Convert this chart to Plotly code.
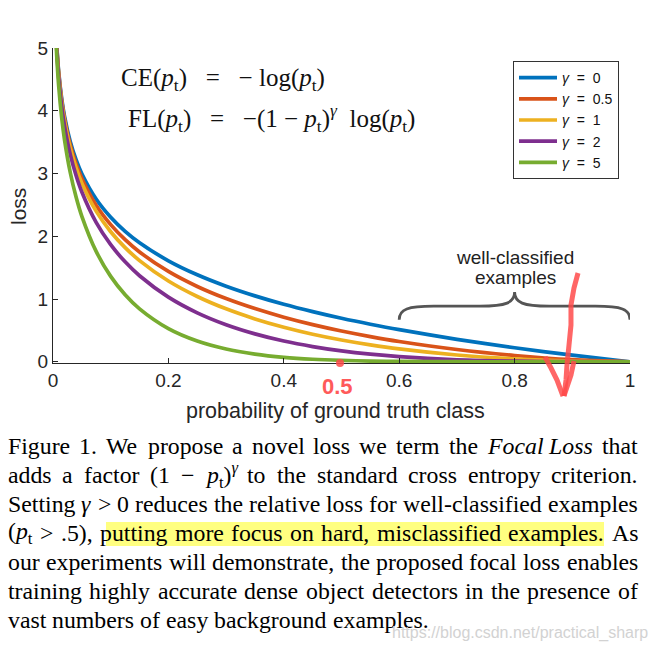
import re
import plotly.graph_objects as go

# ---------------- data ----------------
p_t = [0.005, 0.0067, 0.01, 0.015, 0.02, 0.03, 0.04, 0.05, 0.075, 0.1, 0.125, 0.15,
       0.2, 0.25, 0.3, 0.35, 0.4, 0.45, 0.5, 0.55, 0.6, 0.7, 0.8, 0.9, 1.0]
loss_g0 = [5.298, 5.006, 4.605, 4.200, 3.912, 3.507, 3.219, 2.996, 2.590, 2.303, 2.079, 1.897,
           1.609, 1.386, 1.204, 1.050, 0.916, 0.799, 0.693, 0.598, 0.511, 0.357, 0.223, 0.105, 0.0]
loss_g05 = [5.285, 4.989, 4.582, 4.168, 3.873, 3.454, 3.154, 2.920, 2.491, 2.185, 1.945, 1.749,
            1.439, 1.200, 1.007, 0.847, 0.710, 0.592, 0.490, 0.401, 0.323, 0.195, 0.100, 0.033, 0.0]
loss_g1 = [5.272, 4.972, 4.559, 4.137, 3.834, 3.402, 3.090, 2.846, 2.396, 2.072, 1.819, 1.612,
           1.287, 1.040, 0.843, 0.683, 0.550, 0.439, 0.347, 0.269, 0.204, 0.107, 0.045, 0.011, 0.0]
loss_g2 = [5.245, 4.939, 4.513, 4.075, 3.757, 3.300, 2.967, 2.704, 2.216, 1.865, 1.592, 1.371,
           1.030, 0.780, 0.590, 0.444, 0.330, 0.242, 0.173, 0.121, 0.082, 0.032, 0.009, 0.001, 0.0]
loss_g5 = [5.167, 4.840, 4.379, 3.894, 3.536, 3.012, 2.625, 2.318, 1.754, 1.360, 1.067, 0.842,
           0.527, 0.329, 0.202, 0.122, 0.071, 0.040, 0.022, 0.011, 0.005, 0.001, 0.000, 0.0, 0.0]

series_names = ["<i>γ</i>&nbsp;&nbsp;=&nbsp;&nbsp;0", "<i>γ</i>&nbsp;&nbsp;=&nbsp;&nbsp;0.5",
                "<i>γ</i>&nbsp;&nbsp;=&nbsp;&nbsp;1", "<i>γ</i>&nbsp;&nbsp;=&nbsp;&nbsp;2",
                "<i>γ</i>&nbsp;&nbsp;=&nbsp;&nbsp;5"]
series_values = [loss_g0, loss_g05, loss_g1, loss_g2, loss_g5]
series_colors = ["#0072BD", "#D95319", "#EDB120", "#7E2F8E", "#77AC30"]

x_ticks = [0, 0.2, 0.4, 0.6, 0.8, 1]
x_tick_labels = ["0", "0.2", "0.4", "0.6", "0.8", "1"]
y_ticks = [0, 1, 2, 3, 4, 5]
y_tick_labels = ["0", "1", "2", "3", "4", "5"]

# caption, word by word (justified like the original)
caption_words = [
    ["Figure", "1.", "We", "propose", "a", "novel", "loss", "we", "term", "the",
     "<i>Focal</i>", "<i>Loss</i>", "that"],
    ["adds", "a", "factor", "(1", "−", "<i>p</i><sub>t</sub>)<sup><i>γ</i></sup>", "to", "the",
     "standard", "cross", "entropy", "criterion."],
    ["Setting", "<i>γ</i>", ">", "0", "reduces", "the", "relative", "loss", "for",
     "well-classified", "examples"],
    ["(<i>p</i><sub>t</sub>", ">", ".5),", "putting", "more", "focus", "on", "hard,",
     "misclassified", "examples.", "As"],
    ["our", "experiments", "will", "demonstrate,", "the", "proposed", "focal", "loss", "enables"],
    ["training", "highly", "accurate", "dense", "object", "detectors", "in", "the", "presence", "of"],
    ["vast", "numbers", "of", "easy", "background", "examples."],
]
caption_justified = [True, True, True, True, True, True, False]

# ---------------- layout geometry ----------------
W, H = 660, 652
L, R, T, B = 53, 630, 48, 363


def px(x):
    return (x - L) / (R - L)


def py(y):
    return (B - y) / (B - T)


# approximate Times advance widths (per 1000 em) for justification
CW = {" ": 250, "(": 333, ")": 333, ",": 250, "-": 333, ".": 250, ">": 564, "−": 564, "γ": 430,
      "A": 722, "F": 556, "W": 944, "S": 556, "L": 611,
      "a": 444, "b": 500, "c": 444, "d": 500, "e": 444, "f": 333, "g": 500, "h": 500, "i": 278,
      "j": 278, "k": 500, "l": 278, "m": 778, "n": 500, "o": 500, "p": 500, "q": 500, "r": 333,
      "s": 389, "t": 278, "u": 500, "v": 500, "w": 722, "x": 500, "y": 500, "z": 444}


def html_width(s, size):
    w, scale = 0.0, 1.0
    for part in re.split(r"(<[^>]+>)", s):
        if part.startswith("<"):
            if part in ("<sub>", "<sup>"):
                scale = 0.7
            elif part in ("</sub>", "</sup>"):
                scale = 1.0
            continue
        for ch in part:
            w += CW.get(ch, 500) * scale
    return w * size / 1000


fig = go.Figure()
for name, vals, col in zip(series_names, series_values, series_colors):
    fig.add_trace(go.Scatter(x=p_t, y=vals, mode="lines", name=name,
                             line=dict(color=col, width=3.7, shape="spline", smoothing=0.8)))

axis_col = "#262626"
sans = "Liberation Sans, Arial, sans-serif"
serif = "Liberation Serif, Times New Roman, serif"
fig.update_layout(
    width=W, height=H,
    margin=dict(l=L, r=W - R, t=T, b=H - B),
    paper_bgcolor="white", plot_bgcolor="white",
    font=dict(family=sans, color=axis_col, size=19),
    showlegend=True,
    legend=dict(x=px(513), y=py(61), xanchor="left", yanchor="top",
                bgcolor="white", bordercolor="#333333", borderwidth=1,
                font=dict(size=14, color="#111111", family=sans),
                tracegroupgap=0, itemwidth=38),
    xaxis=dict(range=[0, 1], tickvals=x_ticks, ticktext=x_tick_labels, showgrid=False,
               zeroline=False, showline=True, linecolor=axis_col, linewidth=1,
               ticks="inside", ticklen=5, tickcolor=axis_col,
               tickfont=dict(size=19, family=sans, color=axis_col), fixedrange=True),
    yaxis=dict(range=[-0.02, 5], tickvals=y_ticks, ticktext=y_tick_labels, showgrid=False,
               zeroline=False, showline=True, linecolor=axis_col, linewidth=1,
               ticks="inside", ticklen=5, tickcolor=axis_col,
               tickfont=dict(size=19, family=sans, color=axis_col), fixedrange=True),
)

ann = []
# axis titles
ann.append(dict(text="probability of ground truth class", x=px(335), y=py(411),
                xanchor="center", yanchor="middle", font=dict(size=21.5, color=axis_col, family=sans)))
ann.append(dict(text="loss", x=px(18), y=py(207), xanchor="center", yanchor="middle",
                textangle=-90, font=dict(size=21, color=axis_col, family=sans)))
# equations
sp = "&nbsp;"
ann.append(dict(text=f"CE(<i>p</i><sub>t</sub>){sp*3}={sp*3}−{sp}log(<i>p</i><sub>t</sub>)",
                x=px(119), y=py(79), xanchor="left", yanchor="middle",
                font=dict(family=serif, size=25, color="#111111")))
ann.append(dict(text=f"FL(<i>p</i><sub>t</sub>){sp*3}={sp*3}−(1{sp}−{sp}<i>p</i><sub>t</sub>)<sup><i>γ</i></sup>{sp*2}log(<i>p</i><sub>t</sub>)",
                x=px(126), y=py(118), xanchor="left", yanchor="middle",
                font=dict(family=serif, size=25, color="#111111")))
# brace label
ann.append(dict(text="well-classified", x=px(515), y=py(257), xanchor="center", yanchor="middle",
                font=dict(size=19, color="#222222", family=sans)))
ann.append(dict(text="examples", x=px(515), y=py(277), xanchor="center", yanchor="middle",
                font=dict(size=19, color="#222222", family=sans)))
# red handwritten 0.5
ann.append(dict(text="<b>0.5</b>", x=px(337), y=py(386), xanchor="center", yanchor="middle",
                font=dict(size=22, color="#FF5A5A", family=sans)))

# caption, justified word by word
cap_size = 23.8
cap_font = dict(family=serif, size=cap_size, color="#000000")
line_y = [446, 475, 504, 533, 562, 591, 620]
CAP_L, CAP_R = 8, 638
for words, just, yy in zip(caption_words, caption_justified, line_y):
    widths = [html_width(w, cap_size) for w in words]
    if just and len(words) > 1:
        gap = (CAP_R - CAP_L - sum(widths)) / (len(words) - 1)
    else:
        gap = CW[" "] * cap_size / 1000
    xx = CAP_L
    for w, wd in zip(words, widths):
        ann.append(dict(text=w, x=px(xx - 2), y=py(yy), xanchor="left", yanchor="middle",
                        font=cap_font))
        xx += wd + gap

# watermark
ann.append(dict(text="https://blog.csdn.net/practical_sharp", x=px(650), y=py(633),
                xanchor="right", yanchor="middle",
                font=dict(size=16, color="#D2D2D2", family=sans)))

for a in ann:
    a.setdefault("xref", "paper")
    a.setdefault("yref", "paper")
    a["showarrow"] = False
fig.update_layout(annotations=ann)

shapes = []
# curly brace (data coordinates)
brace = ("M 0.6,0.67 C 0.6,0.84 0.615,0.885 0.66,0.885 L 0.74,0.885 "
         "C 0.785,0.885 0.8,0.94 0.8,1.11 C 0.8,0.94 0.815,0.885 0.86,0.885 "
         "L 0.94,0.885 C 0.985,0.885 1.0,0.84 1.0,0.67")
shapes.append(dict(type="path", xref="x", yref="y", path=brace,
                   line=dict(color="#555555", width=2.8)))
# highlight behind caption line 4
shapes.append(dict(type="rect", xref="paper", yref="paper", layer="below",
                   x0=px(106), x1=px(604), y0=py(546), y1=py(522),
                   fillcolor="#FFFF80", line=dict(width=0)))


def ppath(points):
    return "M " + " L ".join(f"{px(a):.4f},{py(b):.4f}" for a, b in points)


red = "rgba(255,75,75,0.85)"
shapes.append(dict(type="path", xref="paper", yref="paper",
                   path=ppath([(578, 273), (574, 288), (571, 305), (571, 325), (569, 345),
                               (567, 365), (566, 380), (564, 396)]),
                   line=dict(color=red, width=5)))
shapes.append(dict(type="path", xref="paper", yref="paper",
                   path=ppath([(545, 357), (551, 368), (557, 380), (563, 396)]),
                   line=dict(color=red, width=5)))
shapes.append(dict(type="path", xref="paper", yref="paper",
                   path=ppath([(574, 361), (571, 375), (567, 387), (564, 396)]),
                   line=dict(color=red, width=5)))
shapes.append(dict(type="circle", xref="paper", yref="paper",
                   x0=px(336), x1=px(344), y0=py(367), y1=py(359),
                   fillcolor=red, line=dict(width=0)))
fig.update_layout(shapes=shapes)

fig.write_html("out.html", config={"displayModeBar": False},
               post_script="document.body.style.margin='0';")
